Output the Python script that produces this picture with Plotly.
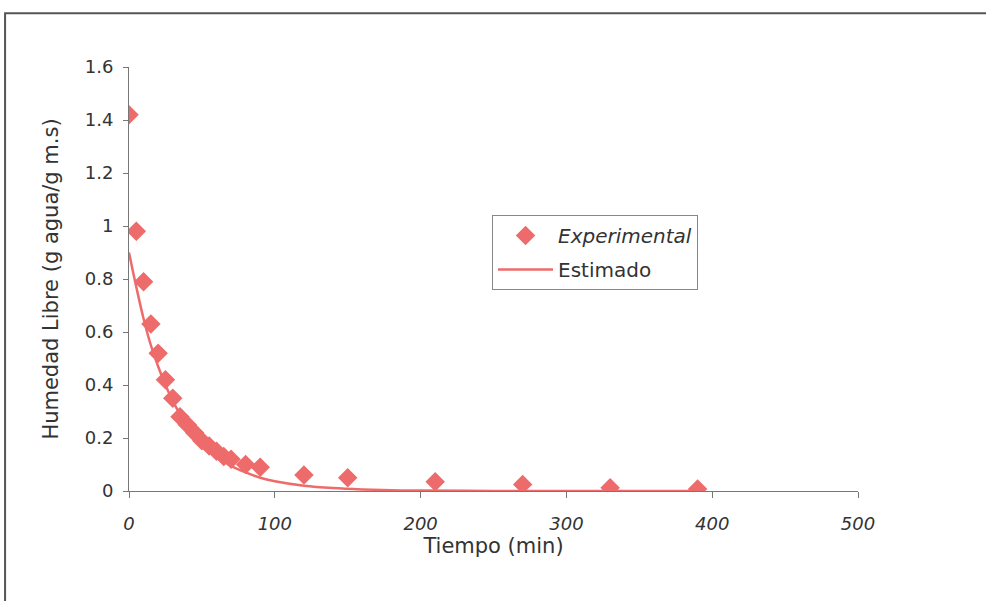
import plotly.graph_objects as go

# Experimental data
t_exp = [0, 5, 10, 15, 20, 25, 30, 35, 40, 45, 50, 55, 60, 65, 70, 80, 90, 120, 150, 210, 270, 330, 390]
x_exp = [1.42, 0.98, 0.79, 0.63, 0.52, 0.42, 0.35, 0.28, 0.25, 0.22, 0.19, 0.17, 0.15, 0.13, 0.12, 0.10, 0.09, 0.06, 0.05, 0.035, 0.025, 0.012, 0.008]

# Estimated curve
t_est = [0, 5, 10, 15, 20, 25, 30, 35, 40, 50, 60, 70, 80, 90, 100, 120, 140, 160, 180, 200, 250, 300, 350, 390]
x_est = [0.90, 0.77, 0.65, 0.55, 0.47, 0.40, 0.34, 0.29, 0.25, 0.18, 0.13, 0.095, 0.07, 0.05, 0.037, 0.02, 0.011, 0.006, 0.003, 0.0015, 0.0004, 0.0001, 0.0, 0.0]

x_ticks = [0, 100, 200, 300, 400, 500]
y_ticks = [0, 0.2, 0.4, 0.6, 0.8, 1.0, 1.2, 1.4, 1.6]
y_tick_text = ["0", "0.2", "0.4", "0.6", "0.8", "1", "1.2", "1.4", "1.6"]

color = "#EE6B6B"
font = "DejaVu Sans, Arial, sans-serif"
txt = "#333333"

fig = go.Figure()
fig.add_trace(go.Scatter(x=t_exp, y=x_exp, mode="markers", name="<i>Experimental</i>",
                         legendgroup="a",
                         marker=dict(symbol="diamond", size=15, color=color)))
fig.add_trace(go.Scatter(x=t_est, y=x_est, mode="lines", name="Estimado",
                         legendgroup="b",
                         line=dict(color=color, width=2.5, shape="spline")))

fig.update_layout(
    width=986, height=601,
    margin=dict(l=129, r=128, t=67, b=110),
    paper_bgcolor="white", plot_bgcolor="white",
    font=dict(family=font, size=18, color=txt),
    showlegend=True,
    legend=dict(x=0.498, y=0.651, xanchor="left", yanchor="top",
                bordercolor="#888888", borderwidth=1, bgcolor="white",
                font=dict(size=20, color=txt), traceorder="grouped", tracegroupgap=5,
                itemwidth=55),
    xaxis=dict(range=[0, 500], tickvals=x_ticks,
               ticktext=["<i>%d</i>" % v for v in x_ticks],
               tickfont=dict(size=18),
               showgrid=False, zeroline=False, showline=True, linecolor="#777777", linewidth=1,
               ticks="outside", ticklen=6, tickcolor="#777777", ticklabelstandoff=10,
               title=dict(text="Tiempo (min)", standoff=5, font=dict(size=21))),
    yaxis=dict(range=[0, 1.6], tickvals=y_ticks, ticktext=y_tick_text,
               tickfont=dict(size=18),
               showgrid=False, zeroline=False, showline=True, linecolor="#777777", linewidth=1,
               ticks="outside", ticklen=5, tickcolor="#777777", ticklabelstandoff=6,
               title=dict(text="Humedad Libre (g agua/g m.s)", standoff=20, font=dict(size=21))),
)

fig.add_shape(type="rect", xref="paper", yref="paper",
              x0=-0.170, x1=1.25, y0=-0.35, y1=1.127,
              line=dict(color="#555555", width=2), layer="below")

fig.write_html("out.html")
